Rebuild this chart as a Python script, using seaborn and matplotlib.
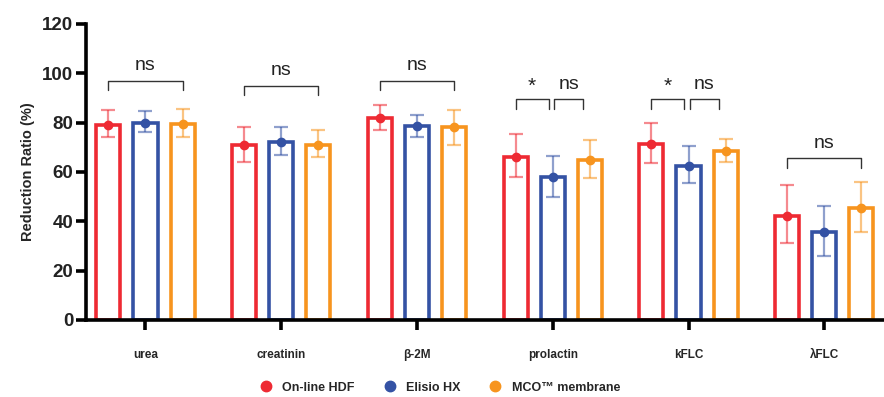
import numpy as np
import pandas as pd
import seaborn as sns
import matplotlib.pyplot as plt
from matplotlib.lines import Line2D

# values
categories = ['urea', 'creatinin', 'β-2M', 'prolactin', 'kFLC', 'λFLC']
groups = ['On-line HDF', 'Elisio HX', 'MCO™ membrane']
colors = ['#EE2A33', '#3452A4', '#F7941E']

hdf_mean = [79, 71, 82, 66, 71.5, 42]
hdf_low = [74, 64, 77, 58, 63.5, 31]
hdf_high = [85, 78, 87, 75.5, 80, 54.5]

hx_mean = [80, 72, 78.5, 58, 62.5, 35.5]
hx_low = [76, 67, 74, 50, 55.5, 26]
hx_high = [84.5, 78, 83, 66.5, 70.5, 46]

mco_mean = [79.5, 71, 78, 65, 68.5, 45.5]
mco_low = [74, 66, 71, 57.5, 64, 35.5]
mco_high = [85.5, 77, 85, 73, 73.5, 56]

# significance brackets: (category, hue a, hue b, label, height)
brackets = [
    (0, 0, 2, 'ns', 97),
    (1, 0, 2, 'ns', 95),
    (2, 0, 2, 'ns', 97),
    (3, 0, 1, '*', 89.5),
    (3, 1, 2, 'ns', 89.5),
    (4, 0, 1, '*', 89.5),
    (4, 1, 2, 'ns', 89.5),
    (5, 0, 2, 'ns', 65.5),
]

means = [hdf_mean, hx_mean, mco_mean]
lows = [hdf_low, hx_low, mco_low]
highs = [hdf_high, hx_high, mco_high]

rows = []
for g, m in zip(groups, means):
    for c, v in zip(categories, m):
        rows.append({'category': c, 'group': g, 'value': v})
df = pd.DataFrame(rows)

sns.set_style('white')
plt.rcParams['font.family'] = ['Liberation Sans', 'DejaVu Sans']

fig = plt.figure(figsize=(8.84, 3.97), dpi=100)
ax = fig.add_axes([0.097, 0.194, 0.903, 0.746])

sns.barplot(data=df, x='category', y='value', hue='group', hue_order=groups,
            palette=colors, width=0.82, gap=0.35, errorbar=None, legend=False,
            ax=ax, zorder=2)

# hollow bars, dot at the mean, light error bars
bar_x = {}
bar_containers = list(ax.containers)
for gi, cont in enumerate(bar_containers):
    for ci, p in enumerate(cont.patches):
        p.set_facecolor('white')
        p.set_edgecolor(colors[gi])
        p.set_linewidth(2.6)
        bar_x[(ci, gi)] = p.get_x() + p.get_width() / 2
    xs = [bar_x[(ci, gi)] for ci in range(len(categories))]
    m = np.array(means[gi])
    yerr = [m - np.array(lows[gi]), np.array(highs[gi]) - m]
    ax.errorbar(xs, m, yerr=yerr, fmt='none', ecolor=colors[gi], alpha=0.55,
                elinewidth=1.6, capsize=5, capthick=1.6, zorder=3)
    ax.plot(xs, m, 'o', color=colors[gi], markersize=6, zorder=4)

for ci, a, b, label, h in brackets:
    x0 = bar_x[(ci, a)]
    x1 = bar_x[(ci, b)]
    if b - a == 1:
        x0 += 0.01 if a == 1 else 0.0
        x1 -= 0.03 if b == 1 else 0.05
    ax.plot([x0, x0, x1, x1], [h - 4, h, h, h - 4], color='#333333', lw=1.0, zorder=5)
    dy = 2.5 if label == 'ns' else 1.5
    ax.text((x0 + x1) / 2, h + dy, label, ha='center', va='bottom',
            fontsize=14 if label == 'ns' else 15, color='#222222')

ax.set_ylim(0, 120)
ax.set_yticks(range(0, 121, 20))
ax.set_xlim(-0.44, 5.44)
ax.set_xlabel('')
ax.set_ylabel('Reduction Ratio (%)', fontsize=10.5, fontweight='bold', labelpad=5)

for s in ['top', 'right']:
    ax.spines[s].set_visible(False)
for s in ['left', 'bottom']:
    ax.spines[s].set_linewidth(2.6)
    ax.spines[s].set_color('black')
ax.tick_params(axis='y', left=True, length=7, width=2.6, labelsize=13.5, pad=2,
               color='black')
ax.tick_params(axis='x', bottom=True, length=7, width=2.6, labelsize=8.5, pad=14,
               color='black')
for t in ax.get_yticklabels():
    t.set_fontweight('bold')
    t.set_color('#222222')
for t in ax.get_xticklabels():
    t.set_fontweight('bold')

handles = [Line2D([0], [0], marker='o', color='none', markerfacecolor=c,
                  markeredgecolor=c, markersize=7.5) for c in colors]
fig.legend(handles, groups, loc='center', bbox_to_anchor=(0.494, 0.023), ncol=3,
           frameon=False, prop={'size': 9, 'weight': 'bold'},
           handletextpad=0.3, columnspacing=1.8)

fig.savefig('out.png', dpi=100)
